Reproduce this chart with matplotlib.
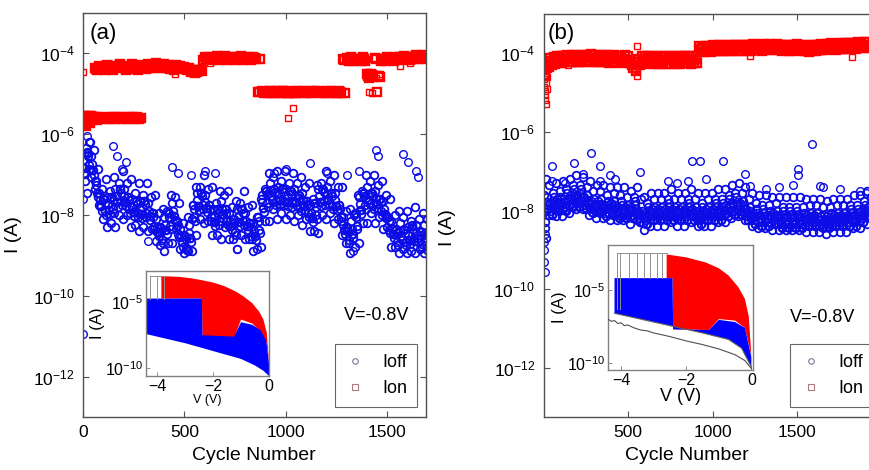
import numpy as np
import matplotlib
matplotlib.use("Agg")
import matplotlib.pyplot as plt
from matplotlib.lines import Line2D
from matplotlib.ticker import NullLocator, LogFormatterSciNotation, FixedLocator

plt.rcParams['font.family'] = ['Liberation Sans', 'DejaVu Sans']
plt.rcParams['mathtext.fontset'] = 'custom'
plt.rcParams['mathtext.rm'] = 'Liberation Sans'
plt.rcParams['mathtext.default'] = 'regular'

# ---------------- data (log10 of current, A); one value per 20 cycles per list ----------------
STEP = 20
# panel (a) Ioff
ioff_a_c1 = [-6.65,-6.45,-6.55,-7.15,-7.45,-7.6,-7.55,-7.55,-7.35,-7.35,-7.35,-7.55,-7.6,-7.65,-7.65,-7.65,-7.7,-7.95,-8.1,-8.3,-8.05,-7.95,-7.7,-8.15,-8.35,-8.5,-8.25,-7.75,-7.45,-7.45,-7.5,-7.75,-7.85,-7.85,-7.65,-7.85,-7.95,-8.1,-7.85,-7.85,-7.95,-8.2,-8.2,-8.05,-7.5,-7.4,-7.2,-7.35,-7.3,-7.35,-7.35,-7.4,-7.35,-7.5,-7.45,-7.65,-7.75,-7.7,-7.35,-7.35,-7.3,-7.45,-7.45,-7.75,-8.05,-8.3,-8.15,-7.95,-7.55,-7.45,-7.3,-7.45,-7.4,-7.6,-7.65,-8.05,-8.15,-8.35,-8.2,-8.35,-8.3,-8.25,-8.25,-8.4,-8.25]
ioff_a_c4 = [-6.84,-6.46,-6.74,-7.16,-7.64,-7.61,-7.74,-7.56,-7.54,-7.36,-7.54,-7.56,-7.79,-7.66,-7.84,-7.66,-7.89,-7.96,-8.29,-8.31,-8.24,-7.96,-7.89,-8.16,-8.54,-8.51,-8.44,-7.76,-7.64,-7.46,-7.69,-7.76,-8.04,-7.86,-7.84,-7.86,-8.14,-8.11,-8.04,-7.86,-8.14,-8.21,-8.39,-8.06,-7.69,-7.41,-7.39,-7.36,-7.49,-7.36,-7.54,-7.41,-7.54,-7.51,-7.64,-7.66,-7.94,-7.71,-7.54,-7.36,-7.49,-7.46,-7.64,-7.76,-8.24,-8.31,-8.34,-7.96,-7.74,-7.46,-7.49,-7.46,-7.59,-7.61,-7.84,-8.06,-8.34,-8.36,-8.39,-8.36,-8.49,-8.26,-8.44,-8.41,-8.44]
ioff_a_c2 = [-6.95,-6.55,-6.88,-7.25,-7.78,-7.7,-7.87,-7.64,-7.68,-7.45,-7.67,-7.64,-7.92,-7.74,-7.97,-7.74,-8.02,-8.04,-8.42,-8.39,-8.37,-8.04,-8.02,-8.24,-8.67,-8.6,-8.57,-7.84,-7.77,-7.54,-7.82,-7.84,-8.17,-7.94,-7.97,-7.94,-8.27,-8.19,-8.17,-7.94,-8.27,-8.29,-8.52,-8.14,-7.82,-7.49,-7.52,-7.44,-7.62,-7.44,-7.67,-7.49,-7.67,-7.59,-7.77,-7.74,-8.07,-7.79,-7.67,-7.44,-7.62,-7.54,-7.77,-7.84,-8.37,-8.39,-8.47,-8.04,-7.87,-7.54,-7.62,-7.54,-7.72,-7.69,-7.97,-8.14,-8.47,-8.44,-8.52,-8.44,-8.62,-8.34,-8.57,-8.49,-8.57]
ioff_a_c5 = [-6.98,-6.76,-6.88,-7.46,-7.78,-7.91,-7.88,-7.86,-7.68,-7.66,-7.68,-7.86,-7.93,-7.96,-7.98,-7.96,-8.03,-8.26,-8.43,-8.61,-8.38,-8.26,-8.03,-8.46,-8.68,-8.81,-8.58,-8.06,-7.78,-7.76,-7.83,-8.06,-8.18,-8.16,-7.98,-8.16,-8.28,-8.41,-8.18,-8.16,-8.28,-8.51,-8.53,-8.36,-7.83,-7.71,-7.53,-7.66,-7.63,-7.66,-7.68,-7.71,-7.68,-7.81,-7.78,-7.96,-8.08,-8.01,-7.68,-7.66,-7.63,-7.76,-7.78,-8.06,-8.38,-8.61,-8.48,-8.26,-7.88,-7.76,-7.63,-7.76,-7.73,-7.91,-7.98,-8.36,-8.48,-8.66,-8.53,-8.66,-8.63,-8.56,-8.58,-8.71,-8.58]
ioff_a_c3 = [-7.15,-6.85,-7.0,-7.55,-7.9,-8.0,-7.98,-7.95,-7.8,-7.75,-7.78,-7.95,-8.03,-8.05,-8.08,-8.05,-8.13,-8.35,-8.53,-8.7,-8.48,-8.35,-8.13,-8.55,-8.78,-8.87,-8.68,-8.15,-7.88,-7.85,-7.93,-8.15,-8.28,-8.25,-8.08,-8.25,-8.38,-8.5,-8.28,-8.25,-8.38,-8.6,-8.63,-8.45,-7.93,-7.8,-7.63,-7.75,-7.73,-7.75,-7.78,-7.8,-7.78,-7.9,-7.88,-8.05,-8.18,-8.1,-7.78,-7.75,-7.73,-7.85,-7.88,-8.15,-8.48,-8.7,-8.58,-8.35,-7.98,-7.85,-7.73,-7.85,-7.83,-8.0,-8.08,-8.45,-8.58,-8.75,-8.63,-8.75,-8.73,-8.65,-8.68,-8.8,-8.68]
ioff_a_s1 = [-6.35,-6.2,-6.4,-6.85,-7.35,-7.1,-7.4,-7.05,-7.2,-6.9,-7.2,-7.1,-7.45,-7.2,-7.5,-7.2,-7.55,-7.5,-7.95,-7.85,-7.9,-7.5,-7.55,-7.7,-8.2,-8.05,-8.1,-7.3,-7.3,-7.0,-7.35,-7.3,-7.7,-7.4,-7.5,-7.4,-7.8,-7.65,-7.7,-7.4,-7.8,-7.75,-8.05,-7.6,-7.35,-6.95,-7.05,-6.9,-7.15,-6.9,-7.2,-6.95,-7.2,-7.05,-7.3,-7.2,-7.6,-7.25,-7.2,-6.9,-7.15,-7.0,-7.3,-7.3,-7.9,-7.85,-8.0,-7.5,-7.4,-7.0,-7.15,-7.0,-7.25,-7.15,-7.5,-7.6,-8.0,-7.9,-8.05,-7.9,-8.15,-7.8,-8.1,-7.95,-8.1]
ioff_a_s2 = [-7.45,-7.05,-7.35,-7.75,-8.1,-8.3,-8.2,-8.3,-8.0,-8.1,-8.0,-8.3,-8.25,-8.4,-8.3,-8.4,-8.35,-8.65,-8.75,-8.9,-8.7,-8.7,-8.35,-8.85,-8.95,-8.9,-8.9,-8.5,-8.1,-8.2,-8.15,-8.5,-8.5,-8.6,-8.3,-8.6,-8.6,-8.85,-8.5,-8.6,-8.6,-8.9,-8.85,-8.8,-8.15,-8.15,-7.85,-8.1,-7.95,-8.1,-8.0,-8.15,-8.0,-8.25,-8.1,-8.4,-8.4,-8.45,-8.0,-8.1,-7.95,-8.2,-8.1,-8.5,-8.7,-8.95,-8.8,-8.7,-8.2,-8.2,-7.95,-8.2,-8.05,-8.35,-8.3,-8.8,-8.8,-8.95,-8.85,-8.95,-8.9,-8.95,-8.85,-8.95,-8.9]
ioff_a_out_cyc = [0, 2, 18, 30, 148, 167, 190, 212, 320, 438, 470, 530, 600, 650, 760, 940, 1000, 1118, 1200, 1300, 1330, 1360, 1443, 1455, 1577, 1600, 1640, 1650]
ioff_a_out = [-10.94, -7.6, -6.05, -6.2, -6.3, -6.55, -6.85, -6.7, -8.65, -6.8, -6.95, -7.0, -6.9, -6.95, -8.85, -6.95, -6.85, -6.72, -6.95, -7.0, -8.9, -6.9, -6.4, -6.55, -6.5, -6.7, -6.9, -7.05]

# panel (a) Ion
ion_a_1 = [-5.6,-5.65,-5.55,-4.35,-4.3,-4.35,-4.28,-4.32,-4.3,-4.27,-4.33,-4.3,-4.26,-4.3,-4.28,-4.32,-4.27,-4.3,-4.25,-4.3,-4.27,-4.29,-4.32,-4.28,-4.3,-4.33,-4.35,-4.4,-4.45,-4.42,-4.1,-4.08,-4.12,-4.07,-4.1,-4.06,-4.11,-4.08,-4.1,-4.07,-4.12,-4.09,-4.1,-4.95,-4.93,-4.95,-4.92,-4.96,-4.94,-4.92,-4.95,-4.93,-4.96,-4.94,-4.92,-4.95,-4.93,-4.94,-4.92,-4.95,-4.93,-4.94,-4.96,-4.93,-4.15,-4.12,-4.1,-4.15,-4.13,-4.1,-4.5,-4.52,-4.12,-4.55,-4.15,-4.1,-4.12,-4.08,-4.1,-4.06,-4.1,-4.08,-4.05,-4.07,-4.05]
ion_a_2 = [-5.7,-5.55,-5.62,-4.4,-4.38,-4.42,-4.36,-4.4,-4.37,-4.35,-4.4,-4.38,-4.35,-4.4,-4.36,-4.38,-4.35,-4.37,-4.33,-4.36,-4.35,-4.38,-4.4,-4.36,-4.38,-4.4,-4.45,-4.48,-4.4,-4.16,-4.15,-4.17,-4.14,-4.16,-4.13,-4.17,-4.15,-4.16,-4.14,-4.17,-4.15,-4.16,-4.14,-4.15,-4.98,-4.97,-4.99,-4.96,-4.98,-4.97,-4.99,-4.97,-4.98,-4.96,-4.99,-4.97,-4.98,-4.96,-4.99,-4.97,-4.98,-4.96,-4.98,-4.99,-4.97,-4.18,-4.2,-4.17,-4.2,-4.18,-4.6,-4.57,-4.95,-4.2,-4.18,-4.16,-4.18,-4.15,-4.17,-4.14,-4.16,-4.13,-4.15,-4.12,-4.14]
ion_a_3 = [-5.65,-5.6,-5.58,-4.38,-4.33,-4.38,-4.31,-4.36,-4.33,-4.3,-4.36,-4.34,-4.3,-4.35,-4.31,-4.35,-4.3,-4.33,-4.28,-4.33,-4.3,-4.33,-4.36,-4.31,-4.34,-4.37,-4.4,-4.45,-4.43,-4.44,-4.12,-4.12,-4.13,-4.11,-4.12,-4.1,-4.13,-4.12,-4.12,-4.11,-4.13,-4.12,-4.12,-4.96,-4.95,-4.96,-4.94,-4.97,-4.96,-4.94,-4.97,-4.95,-4.97,-4.95,-4.95,-4.96,-4.95,-4.95,-4.95,-4.96,-4.95,-4.95,-4.97,-4.96,-4.16,-4.15,-4.15,-4.16,-4.16,-4.14,-4.55,-4.54,-4.13,-4.58,-4.16,-4.13,-4.15,-4.11,-4.13,-4.1,-4.13,-4.1,-4.1,-4.1,-4.09]
ion_a_low_cyc = [0,5,10,15,20,25,30,35,40,45,50,55,60,65,70,75,80,110,118,126,134,142,150,158,166,174,182,190,198,205,220,228,236,244,252,260,268,276,285]
ion_a_low = [-5.55,-5.75,-5.62,-5.8,-5.6,-5.7,-5.55,-5.72,-5.6,-5.66,-5.58,-5.63,-5.6,-5.57,-5.64,-5.6,-5.58,-5.62,-5.6,-5.57,-5.63,-5.6,-5.58,-5.62,-5.6,-5.57,-5.6,-5.63,-5.58,-5.6,-5.62,-5.58,-5.6,-5.57,-5.62,-5.6,-5.58,-5.62,-5.6]
ion_a_extra_cyc = [0, 455, 625, 1010, 1035, 1405, 1415, 1425, 1430, 1445, 1460, 1410, 1422, 1560, 1610]
ion_a_extra = [-4.47, -4.5, -4.25, -5.6, -5.36, -4.45, -4.5, -4.48, -4.55, -4.6, -4.5, -4.95, -4.97, -4.3, -4.25]

# panel (b) Ioff
ioff_b_c1 = [-7.6,-7.65,-7.8,-7.65,-7.7,-7.65,-7.7,-7.55,-7.6,-7.45,-7.6,-7.45,-7.65,-7.6,-7.75,-7.7,-7.75,-7.7,-7.85,-7.75,-7.8,-7.75,-7.9,-7.75,-7.9,-7.85,-7.9,-7.75,-8.0,-8.0,-8.05,-7.9,-7.95,-7.9,-7.95,-7.9,-7.95,-7.8,-7.95,-7.9,-7.95,-7.9,-7.95,-7.8,-7.95,-7.9,-8.05,-7.9,-7.95,-7.9,-7.95,-7.8,-7.95,-7.8,-7.85,-7.7,-7.8,-7.65,-7.8,-7.75,-7.95,-7.9,-8.05,-7.95,-8.1,-7.95,-8.1,-8.0,-8.05,-8.0,-8.15,-8.0,-8.15,-8.0,-8.15,-8.0,-8.15,-8.05,-8.1,-8.05,-8.1,-8.05,-8.15,-8.1,-8.15,-8.05,-8.1,-8.05,-8.1,-8.05,-8.1,-7.95,-8.1,-7.95,-8.0,-7.85,-7.9]
ioff_b_c4 = [-8.03,-7.77,-7.88,-7.77,-7.78,-7.77,-7.78,-7.67,-7.68,-7.57,-7.68,-7.57,-7.73,-7.72,-7.83,-7.82,-7.83,-7.82,-7.93,-7.87,-7.88,-7.87,-7.98,-7.87,-7.98,-7.97,-7.98,-7.87,-8.08,-8.12,-8.13,-8.02,-8.03,-8.02,-8.03,-8.02,-8.03,-7.92,-8.03,-8.02,-8.03,-8.02,-8.03,-7.92,-8.03,-8.02,-8.13,-8.02,-8.03,-8.02,-8.03,-7.92,-8.03,-7.92,-7.93,-7.82,-7.88,-7.77,-7.88,-7.87,-8.03,-8.02,-8.13,-8.07,-8.18,-8.07,-8.18,-8.12,-8.13,-8.12,-8.23,-8.12,-8.23,-8.12,-8.23,-8.12,-8.23,-8.17,-8.18,-8.17,-8.18,-8.17,-8.23,-8.22,-8.23,-8.17,-8.18,-8.17,-8.18,-8.17,-8.18,-8.07,-8.18,-8.07,-8.08,-7.97,-7.98]
ioff_b_c2 = [-8.3,-7.85,-8.0,-7.85,-7.9,-7.85,-7.9,-7.75,-7.8,-7.65,-7.8,-7.65,-7.85,-7.8,-7.95,-7.9,-7.95,-7.9,-8.05,-7.95,-8.0,-7.95,-8.1,-7.95,-8.1,-8.05,-8.1,-7.95,-8.2,-8.2,-8.25,-8.1,-8.15,-8.1,-8.15,-8.1,-8.15,-8.0,-8.15,-8.1,-8.15,-8.1,-8.15,-8.0,-8.15,-8.1,-8.25,-8.1,-8.15,-8.1,-8.15,-8.0,-8.15,-8.0,-8.05,-7.9,-8.0,-7.85,-8.0,-7.95,-8.15,-8.1,-8.25,-8.15,-8.3,-8.15,-8.3,-8.2,-8.25,-8.2,-8.35,-8.2,-8.35,-8.2,-8.35,-8.2,-8.35,-8.25,-8.3,-8.25,-8.3,-8.25,-8.35,-8.3,-8.35,-8.25,-8.3,-8.25,-8.3,-8.25,-8.3,-8.15,-8.3,-8.15,-8.2,-8.05,-8.1]
ioff_b_c5 = [-8.45,-7.97,-8.08,-7.97,-7.98,-7.97,-7.98,-7.87,-7.88,-7.77,-7.88,-7.77,-7.93,-7.92,-8.03,-8.02,-8.03,-8.02,-8.13,-8.07,-8.08,-8.07,-8.18,-8.07,-8.18,-8.17,-8.18,-8.07,-8.28,-8.32,-8.33,-8.22,-8.23,-8.22,-8.23,-8.22,-8.23,-8.12,-8.23,-8.22,-8.23,-8.22,-8.23,-8.12,-8.23,-8.22,-8.33,-8.22,-8.23,-8.22,-8.23,-8.12,-8.23,-8.12,-8.13,-8.02,-8.08,-7.97,-8.08,-8.07,-8.23,-8.22,-8.33,-8.27,-8.38,-8.27,-8.38,-8.32,-8.33,-8.32,-8.43,-8.32,-8.43,-8.32,-8.43,-8.32,-8.43,-8.37,-8.38,-8.37,-8.38,-8.37,-8.43,-8.42,-8.43,-8.37,-8.38,-8.37,-8.38,-8.37,-8.38,-8.27,-8.38,-8.27,-8.28,-8.17,-8.18]
ioff_b_c3 = [-8.7,-8.1,-8.1,-8.15,-8.0,-8.15,-8.0,-8.05,-7.9,-7.95,-7.9,-7.95,-7.95,-8.1,-8.05,-8.2,-8.05,-8.2,-8.15,-8.25,-8.1,-8.25,-8.2,-8.25,-8.2,-8.35,-8.2,-8.25,-8.3,-8.5,-8.35,-8.4,-8.25,-8.4,-8.25,-8.4,-8.25,-8.3,-8.25,-8.4,-8.25,-8.4,-8.25,-8.3,-8.25,-8.4,-8.35,-8.4,-8.25,-8.4,-8.25,-8.3,-8.25,-8.3,-8.15,-8.2,-8.1,-8.15,-8.1,-8.25,-8.25,-8.4,-8.35,-8.45,-8.4,-8.45,-8.4,-8.5,-8.35,-8.5,-8.45,-8.5,-8.45,-8.5,-8.45,-8.5,-8.45,-8.55,-8.4,-8.55,-8.4,-8.55,-8.45,-8.6,-8.45,-8.55,-8.4,-8.55,-8.4,-8.55,-8.4,-8.45,-8.4,-8.45,-8.3,-8.35,-8.2]
ioff_b_s1 = [-7.2,-7.35,-7.55,-7.3,-7.5,-7.25,-7.45,-7.2,-7.35,-7.1,-7.35,-7.15,-7.4,-7.25,-7.5,-7.35,-7.5,-7.35,-7.6,-7.4,-7.55,-7.4,-7.6,-7.4,-7.65,-7.5,-7.65,-7.4,-7.7,-7.65,-7.8,-7.55,-7.7,-7.55,-7.7,-7.55,-7.7,-7.45,-7.7,-7.55,-7.7,-7.55,-7.7,-7.45,-7.7,-7.55,-7.8,-7.55,-7.7,-7.55,-7.7,-7.45,-7.7,-7.45,-7.6,-7.35,-7.55,-7.3,-7.55,-7.4,-7.7,-7.55,-7.8,-7.6,-7.85,-7.6,-7.85,-7.65,-7.8,-7.65,-7.9,-7.65,-7.9,-7.65,-7.9,-7.65,-7.9,-7.7,-7.85,-7.7,-7.85,-7.7,-7.9,-7.75,-7.9,-7.7,-7.85,-7.7,-7.85,-7.7,-7.85,-7.6,-7.85,-7.6,-7.75,-7.5,-7.65]
ioff_b_out_cyc = [0, 2, 3, 6, 8, 48, 48, 127, 181, 234, 281, 334, 334, 393, 423, 571, 738, 787, 856, 878, 926, 960, 1062, 1192, 1219, 1317, 1396, 1475, 1506, 1506, 1588, 1636, 1653, 1752, 1870, 1910]
ioff_b_out = [-8.8, -9.0, -9.3, -9.55, -8.6, -6.86, -7.25, -7.3, -6.8, -7.07, -6.53, -6.86, -7.25, -7.1, -7.2, -7.03, -7.25, -7.3, -7.25, -6.73, -6.73, -7.2, -6.73, -7.07, -7.37, -7.45, -7.4, -7.35, -6.95, -7.1, -6.3, -7.37, -7.4, -7.45, -7.5, -7.55]

# panel (b) Ion
ion_b_1 = [-4.3,-4.2,-4.12,-4.1,-4.08,-4.07,-4.06,-4.05,-4.06,-4.04,-4.05,-4.06,-4.04,-4.05,-4.03,-4.05,-4.04,-4.06,-4.05,-4.04,-4.06,-4.05,-4.07,-4.06,-4.05,-4.08,-4.2,-4.3,-4.15,-4.08,-4.06,-4.08,-4.07,-4.09,-4.08,-4.07,-4.09,-4.08,-4.07,-4.09,-4.08,-4.07,-4.06,-4.08,-4.07,-4.06,-3.82,-3.83,-3.81,-3.82,-3.8,-3.81,-3.79,-3.8,-3.81,-3.79,-3.78,-3.8,-3.79,-3.78,-3.8,-3.79,-3.77,-3.78,-3.79,-3.77,-3.78,-3.76,-3.78,-3.77,-3.79,-3.78,-3.8,-3.79,-3.78,-3.77,-3.79,-3.8,-3.82,-3.8,-3.79,-3.78,-3.77,-3.78,-3.76,-3.75,-3.77,-3.76,-3.75,-3.74,-3.75,-3.73,-3.74,-3.72,-3.73,-3.71,-3.72]
ion_b_2 = [-4.55,-4.35,-4.3,-4.26,-4.25,-4.24,-4.22,-4.23,-4.21,-4.22,-4.23,-4.21,-4.22,-4.2,-4.22,-4.21,-4.23,-4.22,-4.21,-4.23,-4.22,-4.24,-4.23,-4.22,-4.24,-4.25,-4.38,-4.45,-4.3,-4.25,-4.24,-4.26,-4.25,-4.27,-4.26,-4.25,-4.27,-4.26,-4.25,-4.27,-4.26,-4.25,-4.24,-4.26,-4.25,-4.24,-3.96,-3.97,-3.95,-3.96,-3.94,-3.95,-3.93,-3.94,-3.95,-3.93,-3.92,-3.94,-3.93,-3.92,-3.94,-3.93,-3.91,-3.92,-3.93,-3.91,-3.92,-3.9,-3.92,-3.91,-3.93,-3.92,-3.94,-3.93,-3.92,-3.91,-3.93,-3.94,-3.96,-3.94,-3.93,-3.92,-3.91,-3.92,-3.9,-3.89,-3.91,-3.9,-3.89,-3.88,-3.89,-3.87,-3.88,-3.86,-3.87,-3.85,-3.86]
ion_b_3 = [-4.4,-4.28,-4.2,-4.18,-4.16,-4.15,-4.14,-4.14,-4.13,-4.13,-4.14,-4.13,-4.13,-4.12,-4.12,-4.13,-4.13,-4.14,-4.13,-4.13,-4.14,-4.14,-4.15,-4.14,-4.14,-4.16,-4.3,-4.38,-4.22,-4.16,-4.15,-4.17,-4.16,-4.18,-4.17,-4.16,-4.18,-4.17,-4.16,-4.18,-4.17,-4.16,-4.15,-4.17,-4.16,-4.15,-3.89,-3.9,-3.88,-3.89,-3.87,-3.88,-3.86,-3.87,-3.88,-3.86,-3.85,-3.87,-3.86,-3.85,-3.87,-3.86,-3.84,-3.85,-3.86,-3.84,-3.85,-3.83,-3.85,-3.84,-3.86,-3.85,-3.87,-3.86,-3.85,-3.84,-3.86,-3.87,-3.89,-3.87,-3.86,-3.85,-3.84,-3.85,-3.83,-3.82,-3.84,-3.83,-3.82,-3.81,-3.82,-3.8,-3.81,-3.79,-3.8,-3.78,-3.79]
ion_b_extra_cyc = [0, 3, 5, 7, 9, 11, 13, 15, 18, 22, 26, 145, 375, 553, 553, 790, 897, 1222, 1400, 1826]
ion_b_extra = [-4.45, -4.65, -4.85, -5.05, -5.2, -4.95, -4.75, -5.3, -4.9, -4.6, -4.4, -4.3, -4.28, -3.82, -4.58, -4.28, -4.28, -4.08, -3.95, -4.1]

# inset (a) I-V envelopes (V, log10 I)
ia_red_top_v = [-3.85, -3.5, -3.2, -2.8, -2.4, -2.0, -1.6, -1.2, -0.9, -0.6, -0.35, -0.2, -0.08, 0.0]
ia_red_top = [-3.0, -3.02, -3.05, -3.15, -3.3, -3.48, -3.75, -4.15, -4.55, -5.05, -5.7, -6.3, -7.3, -9.5]
ia_red_bot_v = [-3.85, -2.4, -2.38, -1.25, -1.0, -0.6, -0.3, -0.1, 0.0]
ia_red_bot = [-4.7, -4.7, -7.6, -7.7, -6.3, -6.6, -7.2, -8.0, -9.5]
ia_blue_top_v = [-4.4, -2.4, -2.38, -1.25, -1.0, -0.6, -0.3, -0.1, 0.0]
ia_blue_top = [-4.7, -4.7, -7.5, -7.6, -6.5, -6.7, -7.1, -7.9, -9.6]
ia_blue_bot_v = [-4.4, -3.6, -3.0, -2.0, -1.0, -0.5, -0.2, 0.0]
ia_blue_bot = [-7.4, -7.8, -8.1, -8.7, -9.3, -9.8, -10.2, -10.6]
ia_set_v = [-4.25, -4.0, -3.75]

# inset (b)
ib_red_top_v = [-2.6, -2.0, -1.4, -1.0, -0.7, -0.4, -0.2, -0.08, 0.0]
ib_red_top = [-2.55, -2.75, -3.1, -3.5, -4.0, -4.8, -5.6, -6.8, -9.5]
ib_red_bot_v = [-2.6, -2.42, -2.4, -1.3, -1.0, -0.5, -0.2, 0.0]
ib_red_bot = [-4.18, -4.18, -7.7, -7.75, -7.0, -7.1, -7.6, -9.5]
ib_blue_top_v = [-4.2, -2.42, -2.4, -1.3, -1.0, -0.5, -0.2, 0.0]
ib_blue_top = [-4.18, -4.18, -7.7, -7.75, -7.05, -7.2, -7.6, -9.6]
ib_blue_bot_v = [-4.2, -4.0, -3.0, -2.4, -1.5, -0.7, -0.3, 0.0]
ib_blue_bot = [-6.6, -6.7, -7.2, -7.5, -7.95, -8.4, -9.0, -10.3]
ib_low_v = [-4.4, -4.3, -4.2, -4.1, -4.0, -3.9, -3.8, -3.6, -3.4, -3.2, -3.0, -2.5, -2.0, -1.5, -1.0, -0.5, -0.2, 0.0]
ib_low = [-7.0, -7.15, -7.1, -7.3, -7.25, -7.45, -7.4, -7.6, -7.75, -7.8, -7.95, -8.2, -8.5, -8.75, -9.05, -9.45, -9.85, -10.4]
ib_set_v = [-4.12, -4.02, -3.75, -3.5, -3.3, -3.1, -2.9, -2.75]

# ---------------- figure ----------------
W, H = 869, 470
fig = plt.figure(figsize=(W / 100, H / 100), dpi=100)

def fx(px):
    return px / W

def fy(py):
    return 1 - py / H

BLUE = '#0c0ce6'
RED = '#ff0000'
SPINE = '#505050'

def pts(ax, lists, step, offsets, color, marker, ms, mew):
    for arr, off in zip(lists, offsets):
        x = np.arange(len(arr)) * step + off
        ax.plot(x, 10.0 ** np.array(arr), ls='none', marker=marker, mfc='none',
                mec=color, ms=ms, mew=mew)

def style_main(ax, xmax, xt):
    ax.set_yscale('log')
    ax.set_ylim(1e-13, 1e-3)
    ax.set_xlim(0, xmax)
    ax.yaxis.set_major_locator(FixedLocator([1e-12, 1e-10, 1e-8, 1e-6, 1e-4]))
    ax.yaxis.set_major_formatter(LogFormatterSciNotation())
    ax.yaxis.set_minor_locator(NullLocator())
    ax.set_xticks(xt)
    ax.tick_params(direction='in', top=True, right=True, length=4, width=0.8,
                   labelsize=12.5, pad=6, color=SPINE)
    for s in ax.spines.values():
        s.set_color(SPINE)
        s.set_linewidth(1.0)

def legend(ax):
    h = [Line2D([], [], ls='none', marker='o', mfc='none', mec='#7a7a9a', ms=4, mew=0.8),
         Line2D([], [], ls='none', marker='s', mfc='none', mec='#b07878', ms=4, mew=0.8)]
    lg = ax.legend(h, ['Ioff', 'Ion'], loc='lower right', bbox_to_anchor=(0.975, 0.025),
                   borderaxespad=0, frameon=True, fancybox=False, fontsize=13,
                   handlelength=1.2, handletextpad=0.9, labelspacing=0.5, borderpad=0.55)
    lg.get_frame().set_edgecolor('#404040')
    lg.get_frame().set_linewidth(0.8)

def poly(ax, vt, lt, vb, lb, color, z):
    xs = list(vt) + list(vb)[::-1]
    ys = list(10.0 ** np.array(lt)) + list(10.0 ** np.array(lb))[::-1]
    ax.fill(xs, ys, color=color, lw=0, zorder=z)

def style_inset(ax, xlim, ylim, xlabfs):
    ax.set_yscale('log')
    ax.set_xlim(*xlim)
    ax.set_ylim(*ylim)
    ax.yaxis.set_major_locator(FixedLocator([1e-10, 1e-5]))
    ax.yaxis.set_major_formatter(LogFormatterSciNotation())
    ax.yaxis.set_minor_locator(NullLocator())
    ax.set_xticks([-4, -2, 0])
    ax.tick_params(direction='in', length=3, width=0.6, labelsize=11.5, pad=2, color='#777777')
    for s in ax.spines.values():
        s.set_color('#808080')
        s.set_linewidth(1.0)
    ax.set_ylabel('I (A)', fontsize=12, labelpad=0)
    ax.set_xlabel('V (V)', fontsize=xlabfs, labelpad=0)

# list order: c1, c4, c2, c5, c3, s1, s2 -> staggered offsets inside each 20-cycle step
OFF7 = [0, 3, 6, 9, 12, 15, 18]

# ---- panel (a)
axa = fig.add_axes([fx(83), fy(417), fx(426 - 83), (417 - 13) / H])
pts(axa, [ioff_a_c1, ioff_a_c4, ioff_a_c2, ioff_a_c5, ioff_a_c3, ioff_a_s1, ioff_a_s2], STEP, OFF7, BLUE, 'o', 5.5, 1.3)
axa.plot(ioff_a_out_cyc, 10.0 ** np.array(ioff_a_out), ls='none', marker='o', mfc='none', mec=BLUE, ms=5.5, mew=1.0)
pts(axa, [ion_a_1, ion_a_2, ion_a_3], STEP, [0, 10, 5], RED, 's', 6, 1.7)
axa.plot(ion_a_low_cyc, 10.0 ** np.array(ion_a_low), ls='none', marker='s', mfc='none', mec=RED, ms=6, mew=1.7)
axa.plot(ion_a_extra_cyc, 10.0 ** np.array(ion_a_extra), ls='none', marker='s', mfc='none', mec=RED, ms=5, mew=1.0)
style_main(axa, 1690, [0, 500, 1000, 1500])
legend(axa)

# ---- panel (b)
axb = fig.add_axes([fx(543.5), fy(417), (2000 * 0.169) / W, (417 - 14) / H])
pts(axb, [ioff_b_c1, ioff_b_c4, ioff_b_c2, ioff_b_c5, ioff_b_c3, ioff_b_s1], STEP, OFF7, BLUE, 'o', 5.5, 1.3)
axb.plot(ioff_b_out_cyc, 10.0 ** np.array(ioff_b_out), ls='none', marker='o', mfc='none', mec=BLUE, ms=5.5, mew=1.0)
pts(axb, [ion_b_1, ion_b_2, ion_b_3], STEP, [0, 10, 5], RED, 's', 6, 1.7)
axb.plot(ion_b_extra_cyc, 10.0 ** np.array(ion_b_extra), ls='none', marker='s', mfc='none', mec=RED, ms=5, mew=1.0)
style_main(axb, 2000, [500, 1000, 1500])
axb.set_ylim(10 ** -13.25, 1e-3)
legend(axb)

# ---- inset (a)
ia = fig.add_axes([fx(146), fy(376), fx(269 - 146), (376 - 271) / H])
poly(ia, ia_red_top_v, ia_red_top, ia_red_bot_v, ia_red_bot, RED, 1)
poly(ia, ia_blue_top_v, ia_blue_top, ia_blue_bot_v, ia_blue_bot, '#0000ff', 2)
for v in ia_set_v:
    ia.plot([v, v], [10 ** -4.7, 10 ** -3.0], color='#909090', lw=0.7, zorder=3)
ia.plot([ia_set_v[0], ia_red_top_v[0]], [10 ** -3.0, 10 ** -3.0], color='#909090', lw=0.7, zorder=3)
style_inset(ia, (-4.4, 0.0), (10 ** -10.6, 10 ** -2.6), 9)

# ---- inset (b)
ib = fig.add_axes([fx(608), fy(370), fx(753 - 608), (370 - 245) / H])
poly(ib, ib_red_top_v, ib_red_top, ib_red_bot_v, ib_red_bot, RED, 1)
poly(ib, ib_blue_top_v, ib_blue_top, ib_blue_bot_v, ib_blue_bot, '#0000ff', 2)
ib.plot(ib_blue_bot_v, 10.0 ** np.array(ib_blue_bot), color='#606060', lw=0.8, zorder=3)
ib.plot(ib_low_v, 10.0 ** np.array(ib_low), color='#505050', lw=0.8, zorder=3)
for v in ib_set_v:
    ib.plot([v, v], [10 ** -4.18 if v > -4.0 else 10 ** -6.3, 10 ** -2.45], color='#909090', lw=0.7, zorder=3)
ib.plot([ib_set_v[0], ib_red_top_v[0]], [10 ** -2.45, 10 ** -2.45], color='#909090', lw=0.7, zorder=3)
style_inset(ib, (-4.4, 0.05), (10 ** -10.5, 10 ** -1.9), 13)

# ---- texts
fig.text(fx(90), fy(33), '(a)', fontsize=16, ha='left', va='center')
fig.text(fx(548), fy(33), '(b)', fontsize=16, ha='left', va='center')
fig.text(fx(377), fy(315), 'V=-0.8V', fontsize=13, ha='center', va='center')
fig.text(fx(823), fy(317), 'V=-0.8V', fontsize=13, ha='center', va='center')
fig.text(fx(13), fy(235), 'I (A)', fontsize=14, rotation=90, ha='center', va='center')
fig.text(fx(447), fy(228), 'I (A)', fontsize=14, rotation=90, ha='center', va='center')
fig.text(fx(254), fy(455), 'Cycle Number', fontsize=14, ha='center', va='center')
fig.text(fx(687), fy(455), 'Cycle Number', fontsize=14, ha='center', va='center')

fig.savefig('out.png', dpi=100)
